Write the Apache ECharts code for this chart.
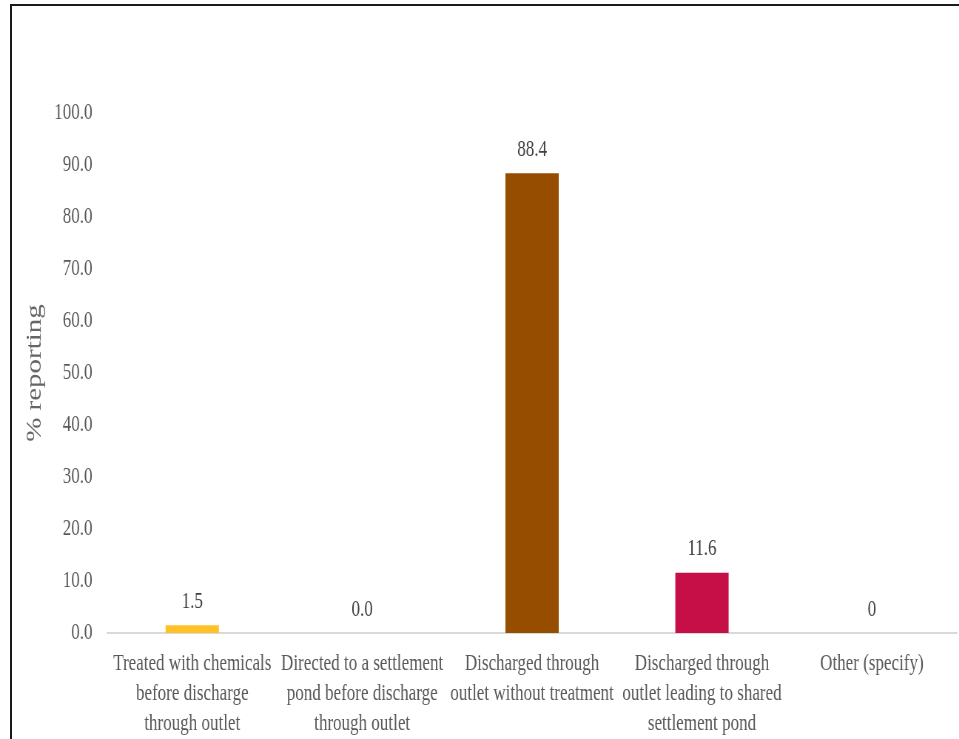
<!DOCTYPE html>
<html>
<head>
<meta charset="utf-8">
<script src="https://cdn.jsdelivr.net/npm/echarts@6/dist/echarts.min.js"></script>
<style>
  html, body { margin: 0; padding: 0; background: #fff; overflow: hidden; }
  #frame {
    position: absolute; left: 10px; top: 4px; width: 2000px; height: 2000px;
    border-left: 2px solid #1a1a1a; border-top: 2px solid #1a1a1a;
    box-sizing: border-box; pointer-events: none; z-index: 2;
  }
  /* condensed serif look: draw wide, then squeeze horizontally */
  #chart {
    position: absolute; left: 0; top: 0; width: 1296px; height: 739px;
    transform: scaleX(0.74); transform-origin: 0 0;
  }
</style>
</head>
<body>
<div id="frame"></div>
<div id="chart"></div>
<script>
const categories = [
  'Treated with chemicals\nbefore discharge\nthrough outlet',
  'Directed to a settlement\npond before discharge\nthrough outlet',
  'Discharged through\noutlet without treatment',
  'Discharged through\noutlet leading to shared\nsettlement pond',
  'Other (specify)'
];
const values = [1.5, 0.0, 88.4, 11.6, 0];
const valueLabels = ['1.5', '0.0', '88.4', '11.6', '0'];
const barColors = ['#FFC125', '#C00000', '#974D00', '#C50F46', '#4472C4'];
const yTicks = { min: 0, max: 100, interval: 10 };

const font = 'Liberation Serif, Times New Roman, serif';
const grey = '#595959';

const chart = echarts.init(document.getElementById('chart'));
chart.setOption({
  animation: false,
  backgroundColor: '#ffffff',
  grid: { left: 145, right: 3, top: 113, bottom: 100, containLabel: false },
  xAxis: {
    type: 'category',
    data: categories,
    axisLine: { lineStyle: { color: '#D9D9D9', width: 2 } },
    axisTick: { show: false },
    axisLabel: {
      interval: 0, color: grey, fontFamily: font, fontSize: 23,
      lineHeight: 30, margin: 16
    }
  },
  yAxis: {
    type: 'value',
    min: yTicks.min, max: yTicks.max, interval: yTicks.interval,
    name: '% reporting',
    nameLocation: 'middle',
    nameGap: 78,
    nameTextStyle: { color: '#666666', fontFamily: font, fontSize: 29 },
    axisLine: { show: false },
    axisTick: { show: false },
    splitLine: { show: false },
    axisLabel: {
      color: grey, fontFamily: font, fontSize: 23, margin: 20,
      formatter: v => v.toFixed(1)
    }
  },
  series: [{
    type: 'bar',
    barWidth: 72,
    data: values.map((v, i) => ({ value: v, itemStyle: { color: barColors[i] } })),
    label: {
      show: true, position: 'top', distance: 12,
      color: '#404040', fontFamily: font, fontSize: 23,
      formatter: p => valueLabels[p.dataIndex]
    }
  }]
});
</script>
</body>
</html>
